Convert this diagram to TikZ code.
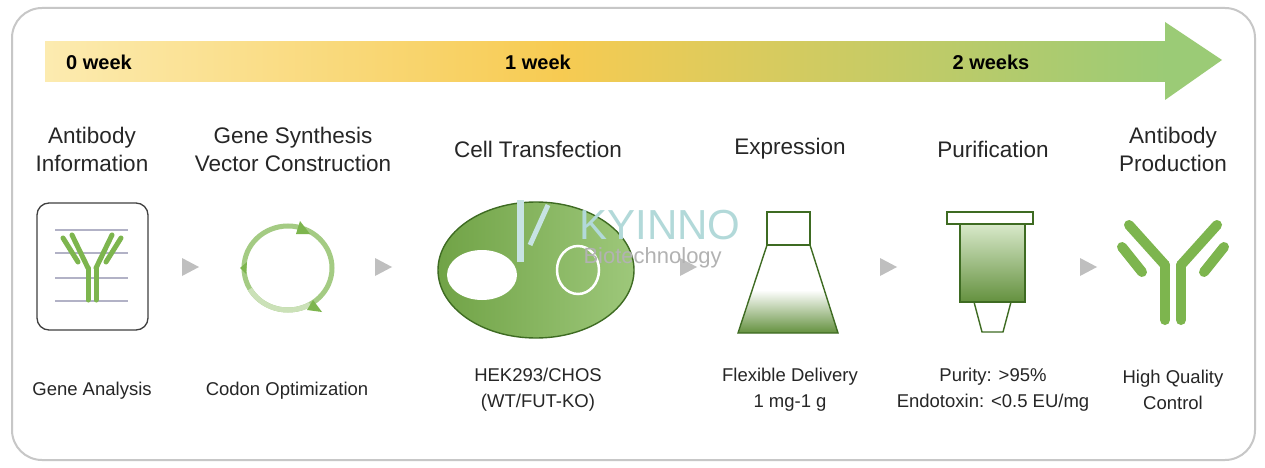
\documentclass[tikz,border=0pt]{standalone}
\usepackage{fontspec}
\setmainfont{Liberation Sans}
\usetikzlibrary{shapes.geometric}
\definecolor{gr}{HTML}{7DB54E}
\definecolor{dg}{HTML}{3E6B22}
\definecolor{ly}{HTML}{FCEBB0}
\definecolor{my}{HTML}{F7CB52}
\definecolor{rg}{HTML}{9BCB76}
\begin{document}
\begin{tikzpicture}[x=1pt,y=-1pt,
  head/.style={font=\fontsize{22.5}{28}\selectfont,align=center,text=black!85},
  sub/.style={font=\fontsize{18.5}{26}\selectfont,align=center,text=black!85},
  wk/.style={font=\bfseries\fontsize{20}{22}\selectfont},
  tri/.style={fill=black!25,draw=none},
  ab/.style={line width=#1,line cap=round,draw=gr},
  outl/.style={draw=dg,line width=1.4pt}]
\useasboundingbox (0,0) rectangle (1265,468);
\fill[white] (0,0) rectangle (1265,468);
\draw[black!22,line width=2pt,rounded corners=30] (12,8) rectangle (1255,460);
% timeline arrow
\shade[left color=ly,right color=my] (45,42) rectangle (560,82);
\shade[left color=my,right color=rg] (559,42) rectangle (1166,82);
\fill[rg] (1165,22) -- (1222,60) -- (1165,100) -- cycle;
\node[wk] (w0) at (99,62) {0 week};
\node[wk] (w1) at (538,62) {1 week};
\node[wk] (w2) at (991,62) {2 weeks};
% headings
\node[head] (h1) at (92,149) {Antibody\\Information};
\node[head] (h2) at (293,149) {Gene Synthesis\\Vector Construction};
\node[head] (h3) at (538,149) {Cell Transfection};
\node[head] (h4) at (790,149) {Expression};
\node[head] (h5) at (993,149) {Purification};
\node[head] (h6) at (1173,149) {Antibody\\Production};
% sub labels
\node[sub] (s1) at (92,391) {Gene Analysis};
\node[sub] (s2) at (287,391) {Codon Optimization};
\node[sub] (s3) at (538,390) {HEK293/CHOS\\(WT/FUT-KO)};
\node[sub] (s4) at (790,390) {Flexible Delivery\\1 mg-1 g};
\node[sub] (s5) at (993,390) {Purity: >95\%\\Endotoxin: <0.5 EU/mg};
\node[sub] (s6) at (1173,390) {High Quality\\Control};
% small triangles
\foreach \x in {190,383,688,888,1088}{\fill[tri] (\x-8,258) -- (\x+9,267) -- (\x-8,276) -- cycle;}
% icon 1
\draw[black!75,line width=1.3pt,rounded corners=12] (37,203) rectangle (148,330);
\foreach \y in {230,253,278,301}{\draw[blue!25!black!30,line width=1.2pt] (55,\y) -- (128,\y);}
\begin{scope}[shift={(92,0)}]
\draw[ab=5pt] (-4,268) -- (-4,300); \draw[ab=5pt] (4,268) -- (4,300);
\draw[ab=5pt] (-4,268) -- (-20,235); \draw[ab=5pt] (4,268) -- (20,235);
\draw[ab=5pt] (-14,262) -- (-29,238); \draw[ab=5pt] (14,262) -- (29,238);
\end{scope}
% icon 2 circle
\draw[line width=5pt,draw=gr!70] (288,268) ellipse (44 and 42);
\draw[line width=5pt,draw=gr!40] (288,268) ++(60:44 and 42) arc[start angle=60,end angle=150,x radius=44,y radius=42];
\fill[gr] (300,221) -- (310,234) -- (296,234) -- cycle;
\fill[gr] (313,300) -- (322,312) -- (307,310) -- cycle;
\fill[gr] (240,268) -- (247,262) -- (246,274) -- cycle;
% icon 3 cell
\shade[left color=gr!90!black,right color=gr!75] (536,270) ellipse (98 and 68);
\draw[outl] (536,270) ellipse (98 and 68);
\fill[white] (482,275) ellipse (35 and 25);
\draw[white,line width=2.5pt] (578,270) ellipse (21 and 24);
% icon 4 flask
\draw[outl] (767,212) rectangle (810,245);
\shade[top color=white,bottom color=gr!80!black] (753,290) -- (824,290) -- (838,333) -- (738,333) -- cycle;
\draw[outl] (767,245) -- (810,245) -- (838,333) -- (738,333) -- cycle;
% icon 5 column
\draw[outl] (947,212) rectangle (1033,224);
\shade[top color=gr!30,bottom color=gr!80!black] (960,224) rectangle (1025,302);
\draw[outl] (960,224) rectangle (1025,302);
\draw[outl] (974,302) -- (1011,302) -- (1003,332) -- (982,332) -- cycle;
% icon 6 antibody
\begin{scope}[shift={(1173,0)}]
\draw[ab=10pt] (-8,265) -- (-8,320); \draw[ab=10pt] (8,265) -- (8,320);
\draw[ab=10pt] (-8,265) -- (-44,225); \draw[ab=10pt] (8,265) -- (44,225);
\draw[ab=10pt] (-31,272) -- (-51,247); \draw[ab=10pt] (31,272) -- (51,247);
\end{scope}
% watermark
\node[text=teal!30,font=\fontsize{42}{44}\selectfont,anchor=west] (wm) at (576,225) {KYINNO};
\node[text=black!30,font=\fontsize{22}{24}\selectfont,anchor=west] (wm2) at (580,258) {Biotechnology};
\fill[teal!22] (517,200) rectangle (524,262);
\draw[teal!22,line width=5pt] (530,245) -- (548,205);
\end{tikzpicture}
\end{document}
